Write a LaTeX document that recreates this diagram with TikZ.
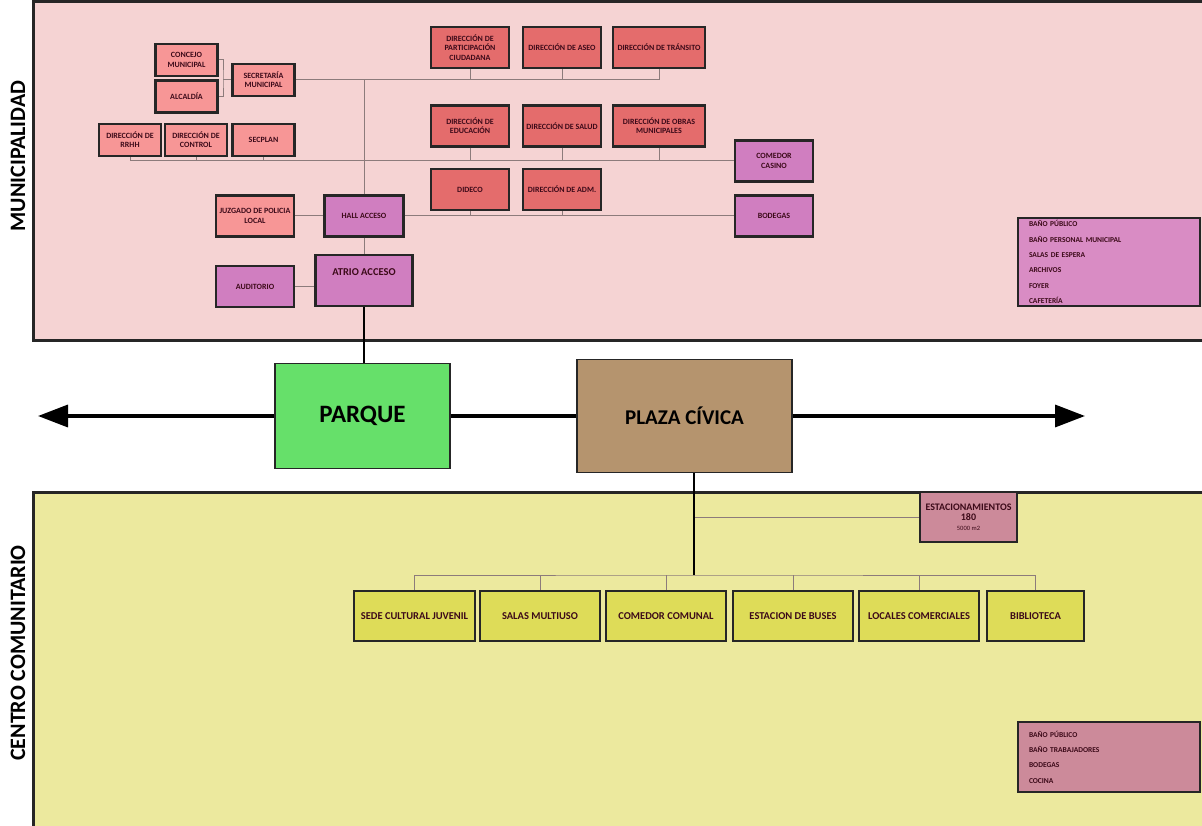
\documentclass[tikz,border=0pt]{standalone}
\usepackage{fontspec}
\setmainfont{Carlito}
\usepackage{tikz}
\usetikzlibrary{arrows.meta}
\definecolor{munibg}{HTML}{F5D3D3}
\definecolor{centrobg}{HTML}{ECE99E}
\definecolor{salmon}{HTML}{F79696}
\definecolor{dirred}{HTML}{E46C6C}
\definecolor{lila}{HTML}{D07EC0}
\definecolor{lilalist}{HTML}{D98CC4}
\definecolor{amarillo}{HTML}{DEDC58}
\definecolor{rosado}{HTML}{CC8A9A}
\definecolor{verde}{HTML}{66E06A}
\definecolor{cafe}{HTML}{B5946E}
\definecolor{txt}{HTML}{3C0A19}
\definecolor{wire}{HTML}{8C7B7B}
\tikzset{
  zone/.style={line width=3pt, draw=black!85},
  box/.style={draw=black!85, line width=2.2pt, align=center, inner sep=1pt, text=txt,
    font=\bfseries\fontsize{8}{9.2}\selectfont},
  secr/.style={box, fill=salmon, minimum width=62, minimum height=32},
  dir/.style={box, fill=dirred, minimum width=78, minimum height=41},
  serv/.style={box, fill=lila, minimum width=78, minimum height=41},
  comu/.style={box, fill=amarillo, minimum width=120, minimum height=50,
    font=\bfseries\fontsize{10.5}{12}\selectfont},
  listbox/.style={box, align=left, text width=160, inner xsep=11pt, inner ysep=0pt,
    font=\bfseries\fontsize{7.5}{15.4}\selectfont},
  big/.style={draw=black!85, line width=1.8pt, text=black, font=\bfseries\fontsize{22}{26}\selectfont},
  side/.style={rotate=90, text=black, font=\bfseries\fontsize{22}{26}\selectfont},
  link/.style={draw=wire, line width=1pt},
  trunk/.style={draw=black, line width=2pt},
  axis/.style={draw=black, line width=3.5pt, -{Triangle[length=30pt,width=22pt]}}
}
\begin{document}
\begin{tikzpicture}[x=1pt,y=-1pt]
	\useasboundingbox (0,0) rectangle (1202,826);
	\fill[white] (0,0) rectangle (1202,826);
	\draw[zone, fill=munibg] (33,2) rectangle (1215,340);
	\draw[zone, fill=centrobg] (33,492) rectangle (1215,840);
	\node[side] (lblMuni) at (18,156) {MUNICIPALIDAD};
	\node[side] (lblCentro) at (18,653) {CENTRO COMUNITARIO};

	% municipalidad
	\node[secr] (concejo) at (186.5,60) {CONCEJO\\MUNICIPAL};
	\node[secr] (alcaldia) at (186.5,96.5) {ALCALDÍA};
	\node[secr] (secretaria) at (263.5,80) {SECRETARÍA\\MUNICIPAL};
	\node[secr] (rrhh) at (130,140) {DIRECCIÓN DE\\RRHH};
	\node[secr] (control) at (196,140) {DIRECCIÓN DE\\CONTROL};
	\node[secr] (secplan) at (263.5,140) {SECPLAN};
	\node[secr, minimum width=78, minimum height=41] (juzgado) at (255,216) {JUZGADO DE POLICIA\\LOCAL};
	\node[dir] (particip) at (470,47.5) {DIRECCIÓN DE\\PARTICIPACIÓN\\CIUDADANA};
	\node[dir] (aseo) at (562,47.5) {DIRECCIÓN DE ASEO};
	\node[dir, minimum width=92] (transito) at (659,47.5) {DIRECCIÓN DE TRÁNSITO};
	\node[dir] (educacion) at (470,126) {DIRECCIÓN DE\\EDUCACIÓN};
	\node[dir] (salud) at (562,126) {DIRECCIÓN DE SALUD};
	\node[dir, minimum width=92] (obras) at (659,126) {DIRECCIÓN DE OBRAS\\MUNICIPALES};
	\node[dir] (dideco) at (470,189.5) {DIDECO};
	\node[dir] (adm) at (562,189.5) {DIRECCIÓN DE ADM.};
	\node[serv] (casino) at (774,161) {COMEDOR\\CASINO};
	\node[serv] (bodegas) at (774,216) {BODEGAS};
	\node[serv, minimum width=79] (hall) at (364,216) {HALL ACCESO};
	\node[serv] (auditorio) at (255,286.5) {AUDITORIO};
	\node[serv, minimum width=97, inner ysep=13.5pt, text height=7pt, text depth=17pt,
	  font=\bfseries\fontsize{10.5}{12}\selectfont] (atrio) at (364,280.5) {ATRIO ACCESO};
	\node[listbox, fill=lilalist, minimum height=88] (listMuni) at (1109,262)
	  {BAÑO PÚBLICO\\BAÑO PERSONAL MUNICIPAL\\SALAS DE ESPERA\\ARCHIVOS\\FOYER\\CAFETERÍA};

	\coordinate (brk) at (223,80);
	\draw[link] (concejo.east) -| (brk) |- (alcaldia.east);
	\draw[link] (brk) -- (secretaria.west);
	\draw[link] (secretaria.east) -| (transito.south);
	\draw[link] (rrhh.south) |- (casino.west);
	\foreach \n in {particip,aseo}
	  \draw[link] (\n.south) -- (\n.south |- secretaria.east);
	\foreach \n in {control,secplan,educacion,salud,obras}
	  \draw[link] (\n.south) -- (\n.south |- casino.west);
	\draw[link] (hall.north) -- (hall.north |- secretaria.east);
	\draw[link] (juzgado.east) -- (hall.west);
	\draw[link] (hall.east) -- (bodegas.west);
	\foreach \n in {dideco,adm}
	  \draw[link] (\n.south) -- (\n.south |- bodegas.west);
	\draw[link] (hall.south) -- (atrio.north);
	\draw[link] (auditorio.east) -- (auditorio.east -| atrio.west);

	% eje central
	\node[big, fill=verde, minimum width=175, minimum height=105,
	  font=\bfseries\fontsize{25}{28}\selectfont] (parque) at (362.5,416) {PARQUE};
	\node[big, fill=cafe, minimum width=215, minimum height=113,
	  font=\bfseries\fontsize{21}{24}\selectfont] (plaza) at (684.5,416) {PLAZA CÍVICA};
	\coordinate (westEnd) at (38,416);
	\coordinate (eastEnd) at (1085,416);
	\draw[axis] (parque.west) -- (westEnd);
	\draw[axis] (plaza.east) -- (eastEnd);
	\draw[trunk, line width=3.5pt] (parque.east) -- (plaza.west);
	\draw[trunk] (atrio.south) -- (atrio.south |- parque.north);

	% centro comunitario
	\node[box, fill=rosado, minimum width=97, minimum height=50, inner sep=0pt] (estac) at (968.5,517)
	  {\fontsize{10}{12}\selectfont ESTACIONAMIENTOS\\[1pt]\fontsize{10}{12}\selectfont 180\\[1pt]\mdseries\fontsize{6.5}{8}\selectfont 5000 m2};
	\node[comu, minimum width=121] (sede) at (414.5,616) {SEDE CULTURAL JUVENIL};
	\node[comu] (salas) at (540,616) {SALAS MULTIUSO};
	\node[comu] (comedor) at (666,616) {COMEDOR COMUNAL};
	\node[comu] (buses) at (793,616) {ESTACION DE BUSES};
	\node[comu] (locales) at (919,616) {LOCALES COMERCIALES};
	\node[comu, minimum width=97] (biblio) at (1035.5,616) {BIBLIOTECA};
	\node[listbox, fill=rosado, minimum height=70] (listCentro) at (1109,757)
	  {BAÑO PÚBLICO\\BAÑO TRABAJADORES\\BODEGAS\\COCINA};

	\coordinate (hubC) at (694,575);
	\draw[link] (sede.north) |- (hubC) -| (biblio.north);
	\foreach \n in {salas,comedor,buses,locales}
	  \draw[link] (\n.north) -- (\n.north |- hubC);
	\draw[link] (estac.west -| hubC) -- (estac.west);
	\draw[trunk] (plaza.south -| hubC) -- (hubC);
\end{tikzpicture}
\end{document}
